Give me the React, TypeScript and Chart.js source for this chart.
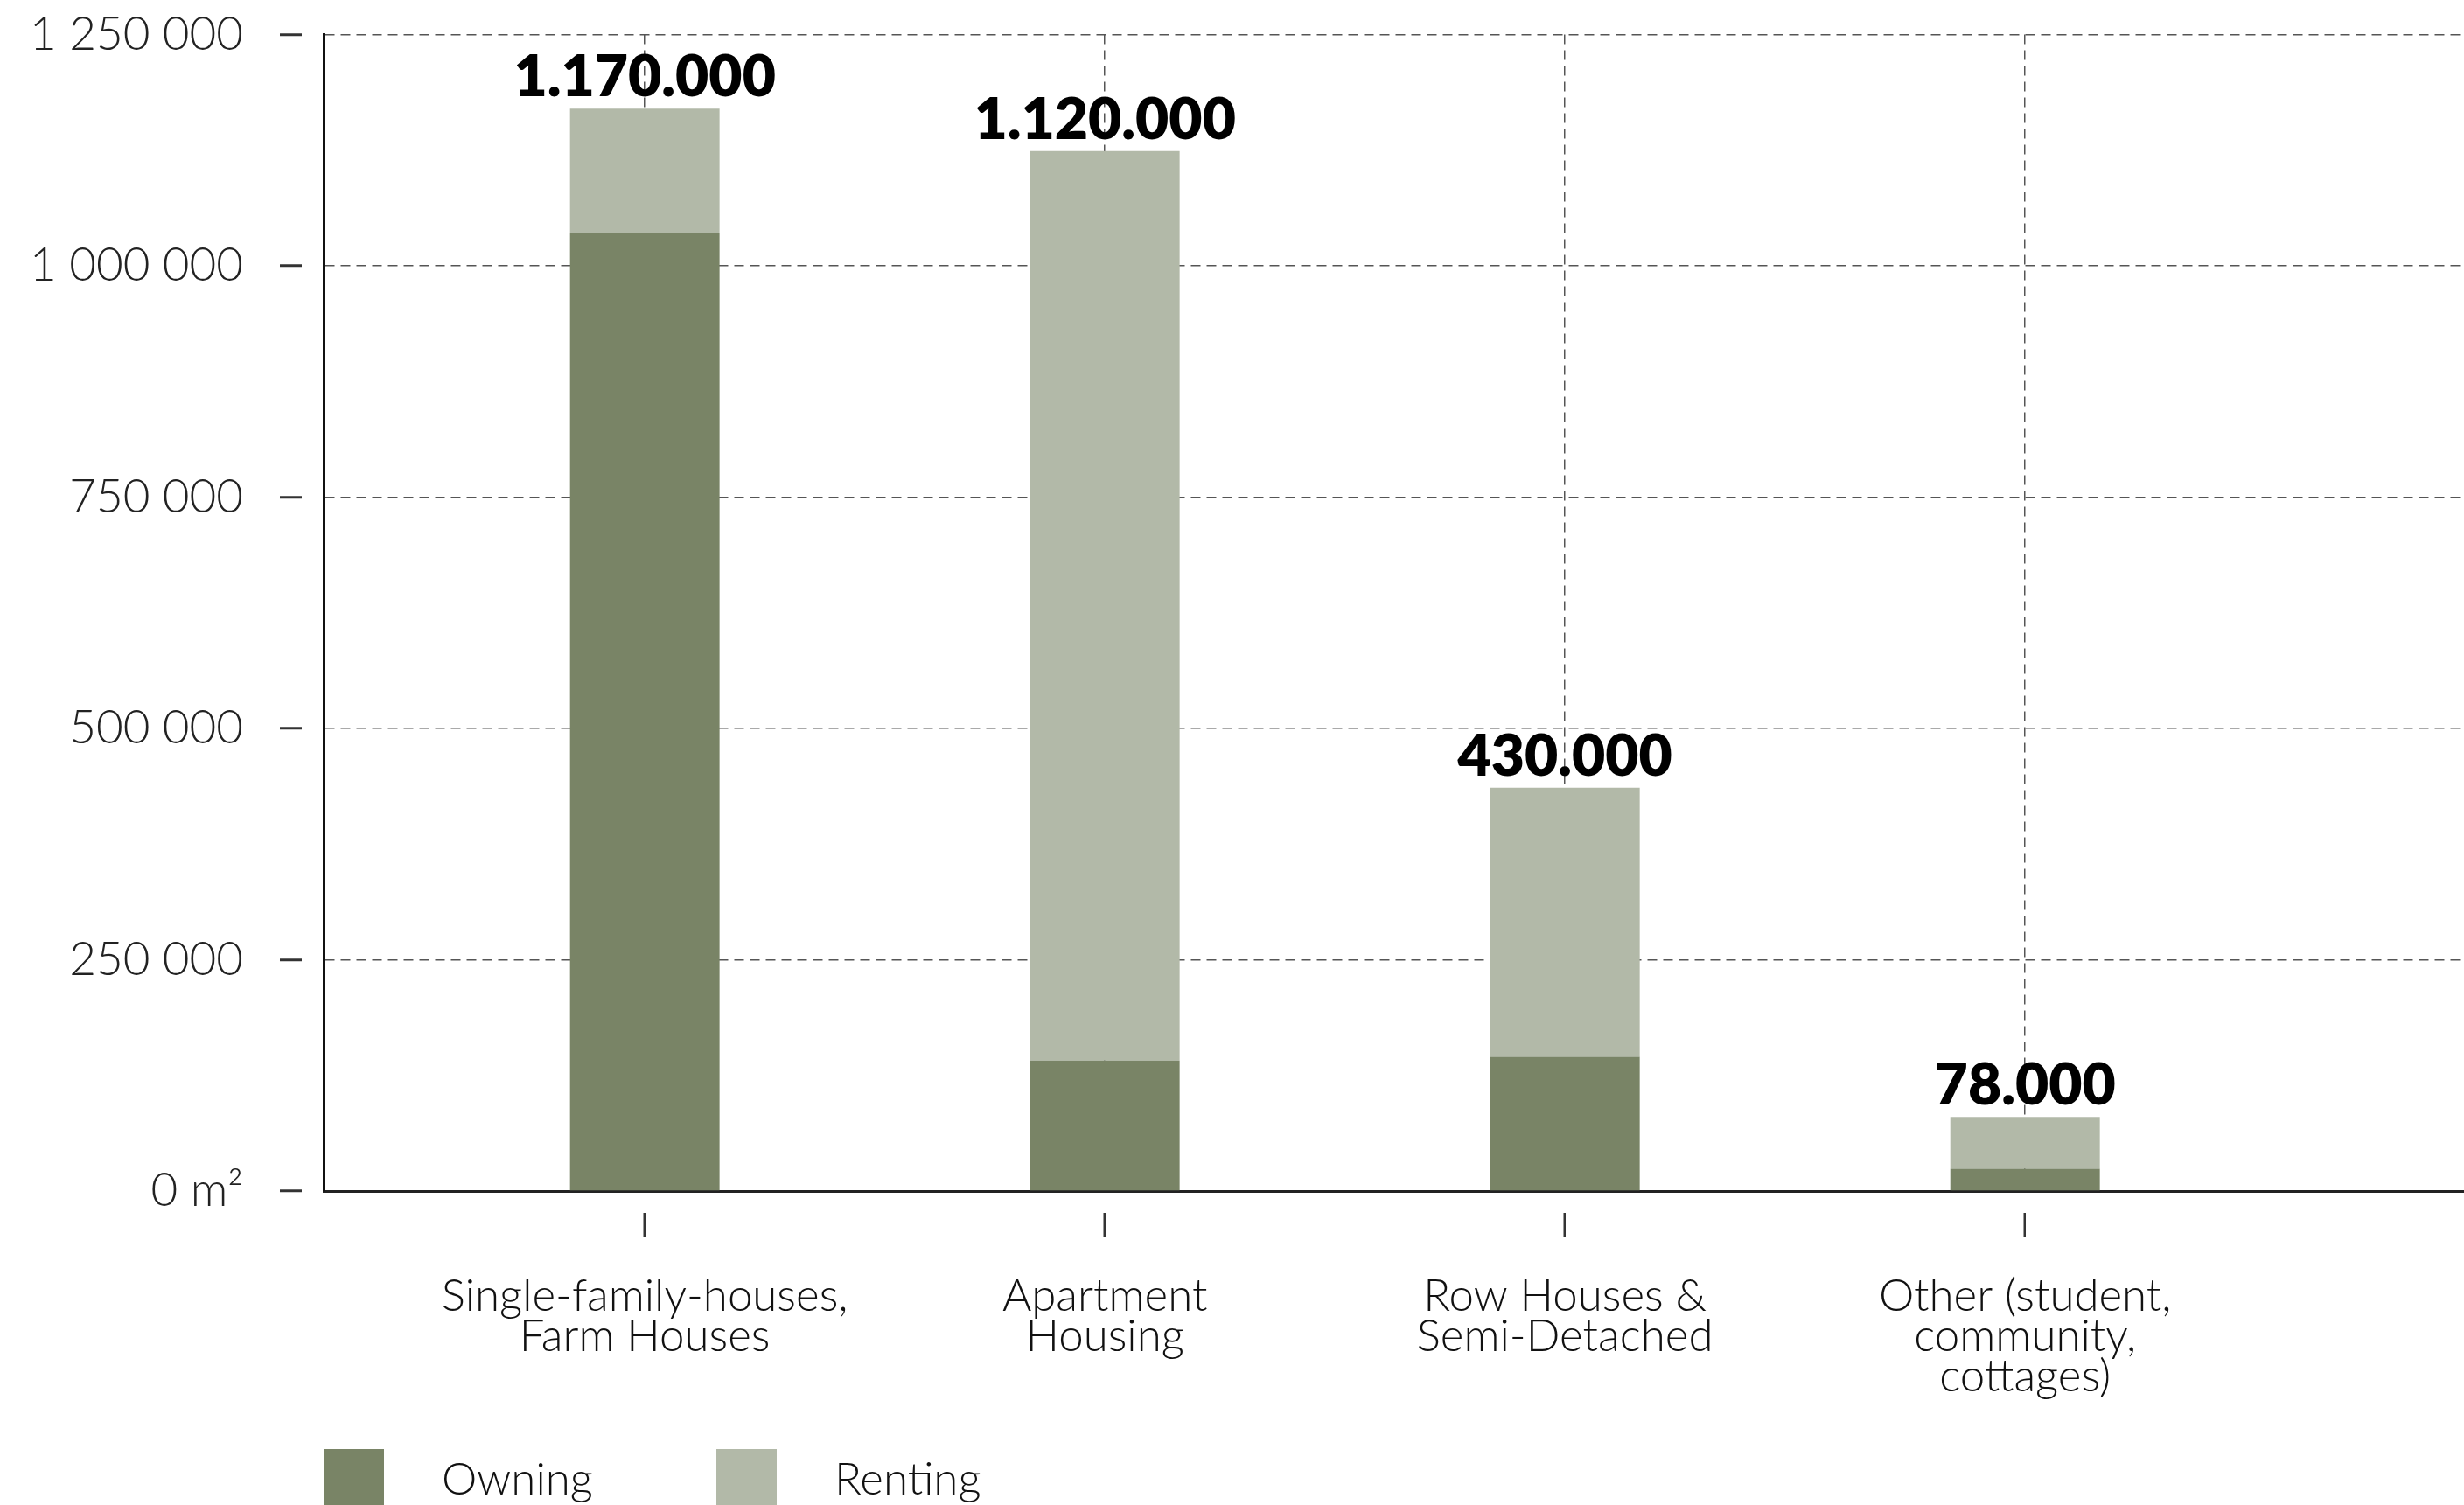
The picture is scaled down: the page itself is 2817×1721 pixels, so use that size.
import React, { useEffect, useRef } from "react";
import { Chart, registerables } from "chart.js";

Chart.register(...registerables);

// ---- data ----
const categories: string[][] = [
  ["Single-family-houses,", "Farm Houses"],
  ["Apartment", "Housing"],
  ["Row Houses &", "Semi-Detached"],
  ["Other (student,", "community,", "cottages)"],
];
const owning = [1036000, 141000, 145000, 24000];
const renting = [134000, 983000, 291000, 56000];
const totalLabels = ["1.170.000", "1.120.000", "430.000", "78.000"];
const yTickValues = [0, 250000, 500000, 750000, 1000000, 1250000];
const yTickLabels = ["0 m²", "250 000", "500 000", "750 000", "1 000 000", "1 250 000"];
const seriesNames = ["Owning", "Renting"];

// ---- styles ----
const seriesColors = ["#798466", "#b2b9a8"];
const FONT = "Lato, 'Open Sans', sans-serif";

const totalsPlugin = {
  id: "totals",
  afterDatasetsDraw(chart: any) {
    const ctx = chart.ctx;
    const last = chart.data.datasets.length - 1;
    const meta = chart.getDatasetMeta(last);
    ctx.save();
    ctx.font = `800 66px ${FONT}`;
    ctx.fillStyle = "#000";
    ctx.textAlign = "center";
    ctx.textBaseline = "alphabetic";
    meta.data.forEach((el: any, i: number) => {
      ctx.fillText(totalLabels[i], el.x, el.y - 14);
    });
    ctx.restore();
  },
};

const legendPlugin = {
  id: "customLegend",
  afterDraw(chart: any) {
    const { ctx, chartArea } = chart;
    ctx.save();
    ctx.font = `300 51px ${FONT}`;
    ctx.textAlign = "left";
    ctx.textBaseline = "middle";
    chart.data.datasets.forEach((ds: any, i: number) => {
      const x = chartArea.left + i * 449;
      const y = chartArea.bottom + 295;
      ctx.fillStyle = ds.backgroundColor;
      ctx.fillRect(x, y, 69, 90);
      ctx.fillStyle = "#111";
      ctx.fillText(ds.label, x + 135, y + 36);
    });
    ctx.restore();
  },
};

export default function App() {
  const ref = useRef<HTMLCanvasElement | null>(null);
  useEffect(() => {
    if (!ref.current) return;
    const chart = new Chart(ref.current, {
      type: "bar",
      data: {
        labels: categories.map((_, i) => i),
        datasets: [
          { label: seriesNames[0], data: owning, backgroundColor: seriesColors[0], borderWidth: 0 },
          { label: seriesNames[1], data: renting, backgroundColor: seriesColors[1], borderWidth: 0 },
        ],
      },
      options: {
        responsive: false,
        animation: false,
        devicePixelRatio: 1,
        categoryPercentage: 1,
        barPercentage: 0.325,
        layout: { padding: { top: 39.5, left: 0, right: 0, bottom: 0 } },
        plugins: { legend: { display: false }, tooltip: { enabled: false } },
        scales: {
          x: {
            type: "linear",
            stacked: true,
            offset: false,
            bounds: "data",
            min: -0.698,
            max: 3.954,
            z: 1,
            afterBuildTicks: (s: any) => {
              s.ticks = categories.map((_, i) => ({ value: i }));
            },
            afterFit: (s: any) => {
              s.height = 359;
              s.paddingLeft = 0;
              s.paddingRight = 0;
            },
            ticks: {
              autoSkip: false,
              maxRotation: 0,
              minRotation: 0,
              padding: 46,
              color: "#111",
              font: { family: FONT, size: 51, weight: "300", lineHeight: 0.9 },
              callback: (_v: any, i: number) => categories[i],
            },
            grid: {
              offset: false,
              color: "#555",
              lineWidth: 1.5,
              tickLength: 52,
              tickColor: "#333",
              tickWidth: 2.5,
              tickBorderDash: [0, 23, 29, 200],
            },
            border: { display: true, color: "#222", width: 3, dash: [11, 7] },
          },
          y: {
            stacked: true,
            min: 0,
            max: 1250000,
            z: 1,
            afterBuildTicks: (s: any) => {
              s.ticks = yTickValues.map((v) => ({ value: v }));
            },
            afterFit: (s: any) => {
              s.width = 370;
              s.paddingTop = 0;
              s.paddingBottom = 0;
            },
            ticks: {
              padding: 42,
              color: "#222",
              font: { family: FONT, size: 53, weight: "300" },
              callback: (_v: any, i: number) => yTickLabels[i],
            },
            grid: {
              color: (c: any) => (c.tick && c.tick.value === 0 ? "rgba(0,0,0,0)" : "#555"),
              lineWidth: 1.5,
              tickLength: 50,
              tickColor: "#333",
              tickWidth: 3,
              tickBorderDash: [25, 200],
            },
            border: { display: true, color: "#111", width: 2.5, dash: [11, 7] },
          },
        },
      } as any,
      plugins: [totalsPlugin, legendPlugin],
    });
    return () => chart.destroy();
  }, []);
  return (
    <div style={{ position: "absolute", left: 0, top: 0, width: 2817, height: 1721, background: "#fff" }}>
      <canvas ref={ref} width={2817} height={1721} style={{ display: "block" }} />
    </div>
  );
}
